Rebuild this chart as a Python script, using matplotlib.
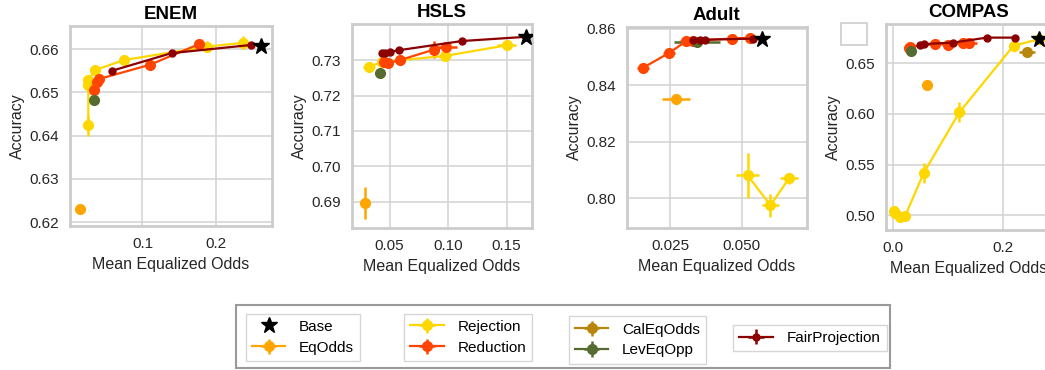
import matplotlib
matplotlib.use('Agg')
import matplotlib.pyplot as plt
from matplotlib.patches import Rectangle
from matplotlib.ticker import FormatStrFormatter

plt.rcParams['font.family'] = ['Liberation Sans', 'DejaVu Sans']

METHODS = ['Base', 'EqOdds', 'Rejection', 'Reduction', 'CalEqOdds', 'LevEqOpp', 'FairProjection']
COLORS = {'Base': 'black', 'EqOdds': '#FFA500', 'Rejection': '#FFD700', 'Reduction': '#FF4500',
          'CalEqOdds': '#B8860B', 'LevEqOpp': '#556B2F', 'FairProjection': '#8B0000'}

# each entry: (mean eq. odds, accuracy, xerr, yerr)
ENEM = {
    'Base': ([0.2625], [0.6608], None, None),
    'EqOdds': ([0.015], [0.6231], [0.002], [0.0007]),
    'Rejection': ([0.026, 0.026, 0.026, 0.0355, 0.0746, 0.188, 0.2374],
                  [0.6424, 0.6517, 0.6529, 0.6552, 0.6575, 0.6606, 0.6615],
                  [0.002, 0.002, 0.002, 0.002, 0.003, 0.006, 0.005],
                  [0.0025, 0.0008, 0.0008, 0.0006, 0.0005, 0.0012, 0.0015]),
    'Reduction': ([0.0337, 0.0373, 0.0401, 0.110, 0.1774],
                  [0.6506, 0.6525, 0.6531, 0.6564, 0.6612],
                  [0.002, 0.002, 0.002, 0.003, 0.003],
                  [0.0005, 0.0005, 0.0005, 0.0005, 0.0005]),
    'LevEqOpp': ([0.0337], [0.6482], [0.001], [0.0002]),
    'FairProjection': ([0.0578, 0.1397, 0.2488], [0.6550, 0.6591, 0.6610],
                       [0.001, 0.001, 0.001], [0.0002, 0.0002, 0.0002]),
}

HSLS = {
    'Base': ([0.1668], [0.7366], None, None),
    'EqOdds': ([0.0293], [0.6897], [0.002], [0.0045]),
    'Rejection': ([0.0322, 0.0435, 0.0975, 0.150],
                  [0.7281, 0.7295, 0.7312, 0.7342],
                  [0.005, 0.004, 0.005, 0.008],
                  [0.0015, 0.0008, 0.0006, 0.0008]),
    'Reduction': ([0.0455, 0.0487, 0.0586, 0.0881, 0.0983],
                  [0.7295, 0.7291, 0.7300, 0.7330, 0.7338],
                  [0.002, 0.002, 0.002, 0.004, 0.009],
                  [0.0008, 0.0008, 0.0008, 0.0024, 0.0012]),
    'LevEqOpp': ([0.0421], [0.7264], [0.001], [0.0003]),
    'FairProjection': ([0.0434, 0.0463, 0.0500, 0.0577, 0.1117, 0.1668],
                       [0.7321, 0.7321, 0.7323, 0.7328, 0.7354, 0.7366],
                       [0.001, 0.001, 0.001, 0.001, 0.001, 0.001],
                       [0.0003, 0.0003, 0.0003, 0.0003, 0.0003, 0.0003]),
}

ADULT = {
    'Base': ([0.0570], [0.8565], None, None),
    'EqOdds': ([0.0271], [0.8350], [0.005], [0.0005]),
    'Rejection': ([0.0521, 0.0601, 0.0666],
                  [0.8082, 0.7976, 0.8071],
                  [0.004, 0.003, 0.003],
                  [0.008, 0.004, 0.002]),
    'Reduction': ([0.0155, 0.0246, 0.0306, 0.0330, 0.0465, 0.0529],
                  [0.8462, 0.8514, 0.8556, 0.8558, 0.8565, 0.8568],
                  [0.002, 0.002, 0.002, 0.002, 0.002, 0.005],
                  [0.0005, 0.0005, 0.0005, 0.0005, 0.0005, 0.0005]),
    'LevEqOpp': ([0.0343], [0.8553], [0.008], [0.0005]),
    'FairProjection': ([0.0331, 0.0355, 0.0372, 0.0540],
                       [0.8559, 0.8561, 0.8561, 0.8565],
                       [0.0005, 0.0005, 0.0005, 0.0005],
                       [0.0003, 0.0003, 0.0003, 0.0003]),
}

COMPAS = {
    'Base': ([0.2647], [0.6737], None, None),
    'EqOdds': ([0.0614], [0.6283], [0.003], [0.002]),
    'Rejection': ([0.0006, 0.0026, 0.0115, 0.0219, 0.0553, 0.1205, 0.2192, 0.2647],
                  [0.5042, 0.5025, 0.4983, 0.4993, 0.5414, 0.6016, 0.6674, 0.6737],
                  [0.003, 0.003, 0.003, 0.003, 0.005, 0.01, 0.008, 0.0],
                  [0.002, 0.002, 0.002, 0.002, 0.01, 0.01, 0.003, 0.0]),
    'Reduction': ([0.028, 0.031, 0.0765, 0.1007, 0.1270, 0.1372],
                  [0.6650, 0.6665, 0.6690, 0.6685, 0.6701, 0.6701],
                  [0.003, 0.003, 0.003, 0.003, 0.003, 0.015],
                  [0.001, 0.001, 0.001, 0.001, 0.001, 0.001]),
    'CalEqOdds': ([0.2435], [0.6615], [0.015], [0.002]),
    'LevEqOpp': ([0.0328], [0.6625], [0.002], [0.001]),
    'FairProjection': ([0.0492, 0.0553, 0.1097, 0.1704, 0.2219],
                       [0.6685, 0.6690, 0.6705, 0.6754, 0.6754],
                       [0.002, 0.002, 0.002, 0.002, 0.002],
                       [0.001, 0.001, 0.001, 0.001, 0.001]),
}

PANELS = [
    ('ENEM', ENEM, [0.067, 0.389, 0.193, 0.541], (0.001, 0.2765), (0.6191, 0.6654),
     [0.1, 0.2], [0.62, 0.63, 0.64, 0.65, 0.66], '%g', '%.2f'),
    ('HSLS', HSLS, [0.337, 0.384, 0.172, 0.551], (0.018, 0.1716), (0.6826, 0.7402),
     [0.05, 0.10, 0.15], [0.69, 0.70, 0.71, 0.72, 0.73], '%.2f', '%.2f'),
    ('Adult', ADULT, [0.600, 0.384, 0.172, 0.543], (0.0099, 0.0728), (0.7896, 0.8606),
     [0.025, 0.050], [0.80, 0.82, 0.84, 0.86], '%.3f', '%.2f'),
    ('COMPAS', COMPAS, [0.848, 0.378, 0.157, 0.557], (-0.0128, 0.286), (0.4852, 0.6888),
     [0.0, 0.2], [0.50, 0.55, 0.60, 0.65], '%.1f', '%.2f'),
]

fig = plt.figure(figsize=(10.45, 3.70), dpi=100)

handles = {}
for title, data, pos, xlim, ylim, xt, yt, xfmt, yfmt in PANELS:
    ax = fig.add_axes(pos)
    ax.set_facecolor('white')
    ax.grid(True, color='#d5d5d5', linewidth=1.2, zorder=0)
    ax.set_axisbelow(True)
    for s in ax.spines.values():
        s.set_color('#cccccc')
        s.set_linewidth(2)
    for m in METHODS:
        if m not in data:
            continue
        x, y, xe, ye = data[m]
        if m == 'Base':
            h, = ax.plot(x, y, linestyle='none', marker='*', color='black', markersize=12, zorder=10)
        else:
            small = m == 'FairProjection'
            h = ax.errorbar(x, y, xerr=xe, yerr=ye, fmt='-o', color=COLORS[m],
                            markersize=5 if small else 7, linewidth=1.6,
                            elinewidth=1.8, capsize=0, zorder=3)
        handles[m] = h
    ax.set_xlim(*xlim)
    ax.set_ylim(*ylim)
    ax.set_xticks(xt)
    ax.set_yticks(yt)
    ax.xaxis.set_major_formatter(FormatStrFormatter(xfmt))
    ax.yaxis.set_major_formatter(FormatStrFormatter(yfmt))
    ax.tick_params(length=0, labelsize=11, colors='#262626', pad=8)
    ax.set_title(title, fontsize=13.5, fontweight='bold', pad=5)
    ax.set_xlabel('Mean Equalized Odds', fontsize=11.5, color='#262626', labelpad=4)
    ax.set_ylabel('Accuracy', fontsize=11.5, color='#262626', labelpad=3)

# outer legend box
fig.patches.append(Rectangle((0.226, 0.006), 0.626, 0.170, transform=fig.transFigure,
                             facecolor='white', edgecolor='#999999', linewidth=1.5, zorder=0))
# empty box above COMPAS
fig.patches.append(Rectangle((0.805, 0.878), 0.025, 0.059, transform=fig.transFigure,
                             facecolor='white', edgecolor='#cccccc', linewidth=1.2))

groups = [(['Base', 'EqOdds'], (0.290, 0.089)),
          (['Rejection', 'Reduction'], (0.448, 0.089)),
          (['CalEqOdds', 'LevEqOpp'], (0.610, 0.081)),
          (['FairProjection'], (0.775, 0.0865))]
for names, anchor in groups:
    leg = fig.legend([handles[n] for n in names], names, loc='center', bbox_to_anchor=anchor,
                     fontsize=11, frameon=True, fancybox=False, handlelength=2.2,
                     labelspacing=0.45, borderpad=0.4, handletextpad=0.9)
    leg.get_frame().set_edgecolor('#cccccc')
    leg.get_frame().set_linewidth(1.0)

fig.savefig('out.png', dpi=100)
